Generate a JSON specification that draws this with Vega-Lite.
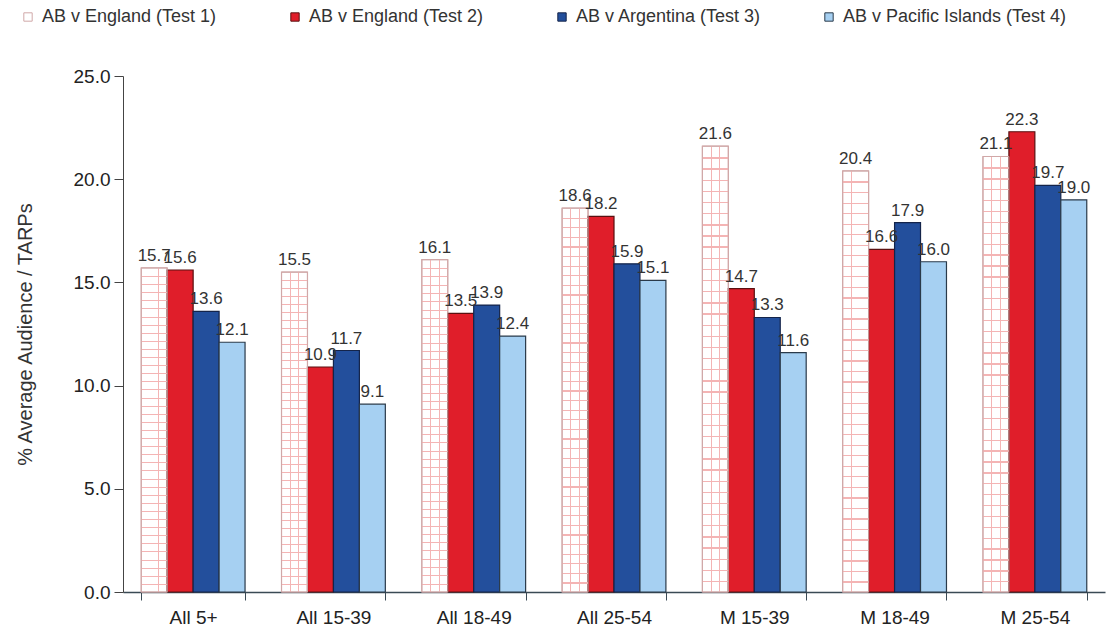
{
  "$schema": "https://vega.github.io/schema/vega-lite/v6.json",
  "width": 982,
  "height": 516,
  "padding": {"left": 123, "top": 76, "right": 4, "bottom": 49},
  "autosize": {"type": "none"},
  "background": "#ffffff",
  "config": {
    "view": {"stroke": null},
    "font": "Liberation Sans"
  },
  "data": {
    "values": [
      {"group": "All 5+", "series": "AB v England (Test 1)", "value": 15.7},
      {"group": "All 5+", "series": "AB v England (Test 2)", "value": 15.6},
      {"group": "All 5+", "series": "AB v Argentina (Test 3)", "value": 13.6},
      {"group": "All 5+", "series": "AB v Pacific Islands (Test 4)", "value": 12.1},
      {"group": "All 15-39", "series": "AB v England (Test 1)", "value": 15.5},
      {"group": "All 15-39", "series": "AB v England (Test 2)", "value": 10.9},
      {"group": "All 15-39", "series": "AB v Argentina (Test 3)", "value": 11.7},
      {"group": "All 15-39", "series": "AB v Pacific Islands (Test 4)", "value": 9.1},
      {"group": "All 18-49", "series": "AB v England (Test 1)", "value": 16.1},
      {"group": "All 18-49", "series": "AB v England (Test 2)", "value": 13.5},
      {"group": "All 18-49", "series": "AB v Argentina (Test 3)", "value": 13.9},
      {"group": "All 18-49", "series": "AB v Pacific Islands (Test 4)", "value": 12.4},
      {"group": "All 25-54", "series": "AB v England (Test 1)", "value": 18.6},
      {"group": "All 25-54", "series": "AB v England (Test 2)", "value": 18.2},
      {"group": "All 25-54", "series": "AB v Argentina (Test 3)", "value": 15.9},
      {"group": "All 25-54", "series": "AB v Pacific Islands (Test 4)", "value": 15.1},
      {"group": "M 15-39", "series": "AB v England (Test 1)", "value": 21.6},
      {"group": "M 15-39", "series": "AB v England (Test 2)", "value": 14.7},
      {"group": "M 15-39", "series": "AB v Argentina (Test 3)", "value": 13.3},
      {"group": "M 15-39", "series": "AB v Pacific Islands (Test 4)", "value": 11.6},
      {"group": "M 18-49", "series": "AB v England (Test 1)", "value": 20.4},
      {"group": "M 18-49", "series": "AB v England (Test 2)", "value": 16.6},
      {"group": "M 18-49", "series": "AB v Argentina (Test 3)", "value": 17.9},
      {"group": "M 18-49", "series": "AB v Pacific Islands (Test 4)", "value": 16.0},
      {"group": "M 25-54", "series": "AB v England (Test 1)", "value": 21.1},
      {"group": "M 25-54", "series": "AB v England (Test 2)", "value": 22.3},
      {"group": "M 25-54", "series": "AB v Argentina (Test 3)", "value": 19.7},
      {"group": "M 25-54", "series": "AB v Pacific Islands (Test 4)", "value": 19.0}
    ]
  },
  "encoding": {
    "x": {
      "field": "group",
      "type": "nominal",
      "sort": null,
      "scale": {"paddingInner": 0.26, "paddingOuter": 0.13},
      "axis": {
        "title": null,
        "labelAngle": 0,
        "labelFontSize": 19,
        "labelColor": "#222222",
        "labelPadding": 8,
        "tickBand": "extent",
        "tickSize": 8,
        "tickColor": "#3a4a55",
        "domainColor": "#3a4a55",
        "domainWidth": 1.5
      }
    },
    "xOffset": {
      "field": "series",
      "type": "nominal",
      "sort": null,
      "scale": {"paddingInner": 0, "paddingOuter": 0}
    },
    "y": {
      "field": "value",
      "type": "quantitative",
      "scale": {"domain": [0, 25], "nice": false},
      "axis": {
        "title": "% Average Audience / TARPs",
        "titleFontSize": 20,
        "titleFontWeight": "normal",
        "titleColor": "#333333",
        "titlePadding": 38,
        "values": [0, 5, 10, 15, 20, 25],
        "format": ".1f",
        "labelFontSize": 19,
        "labelColor": "#222222",
        "labelPadding": 4,
        "tickSize": 9,
        "tickColor": "#444444",
        "domainColor": "#444444",
        "grid": false
      }
    }
  },
  "layer": [
    {
      "mark": {"type": "bar", "strokeWidth": 1.2},
      "encoding": {
        "color": {
          "field": "series",
          "type": "nominal",
          "sort": null,
          "scale": {
            "domain": ["AB v England (Test 1)", "AB v England (Test 2)", "AB v Argentina (Test 3)", "AB v Pacific Islands (Test 4)"],
            "range": ["#ffffff", "#e01e2a", "#234f9c", "#a6d0f2"]
          },
          "legend": {
            "title": null,
            "orient": "none",
            "legendX": -104,
            "legendY": -68,
            "direction": "horizontal",
            "columns": 4,
            "gridAlign": "all",
            "columnPadding": 20,
            "symbolType": "square",
            "symbolSize": 70,
            "symbolStrokeWidth": 1,
            "labelFontSize": 18,
            "labelColor": "#333333",
            "labelOffset": 5,
            "labelLimit": 300
          }
        },
        "stroke": {
          "field": "series",
          "type": "nominal",
          "sort": null,
          "scale": {
            "domain": ["AB v England (Test 1)", "AB v England (Test 2)", "AB v Argentina (Test 3)", "AB v Pacific Islands (Test 4)"],
            "range": ["#d0a8a8", "#5a1010", "#14244a", "#2a3a4a"]
          },
          "legend": null
        }
      }
    },
    {
      "transform": [{"filter": "datum.series === 'AB v England (Test 1)'"}],
      "mark": {
        "type": "bar",
        "fill": {
          "gradient": "linear", "x1": 0, "y1": 0, "x2": 1, "y2": 0,
          "stops": [
            {"offset": 0, "color": "rgba(255,255,255,0)"},
            {"offset": 0.32, "color": "rgba(255,255,255,0)"},
            {"offset": 0.32, "color": "#f4b4b4"},
            {"offset": 0.355, "color": "#f4b4b4"},
            {"offset": 0.355, "color": "rgba(255,255,255,0)"},
            {"offset": 0.65, "color": "rgba(255,255,255,0)"},
            {"offset": 0.65, "color": "#f4b4b4"},
            {"offset": 0.685, "color": "#f4b4b4"},
            {"offset": 0.685, "color": "rgba(255,255,255,0)"},
            {"offset": 1, "color": "rgba(255,255,255,0)"}
          ]
        },
        "stroke": null
      }
    },
    {
      "transform": [{"filter": "datum.series === 'AB v England (Test 1)'"}],
      "mark": {
        "type": "bar",
        "fill": {
          "gradient": "linear", "x1": 0, "y1": 0, "x2": 0, "y2": 1,
          "stops": [
            {"offset": 0, "color": "rgba(255,255,255,0)"},
            {"offset": 0.025, "color": "rgba(255,255,255,0)"}, {"offset": 0.025, "color": "#f4b4b4"}, {"offset": 0.028, "color": "#f4b4b4"}, {"offset": 0.028, "color": "rgba(255,255,255,0)"},
            {"offset": 0.05, "color": "rgba(255,255,255,0)"}, {"offset": 0.05, "color": "#f4b4b4"}, {"offset": 0.053, "color": "#f4b4b4"}, {"offset": 0.053, "color": "rgba(255,255,255,0)"},
            {"offset": 0.075, "color": "rgba(255,255,255,0)"}, {"offset": 0.075, "color": "#f4b4b4"}, {"offset": 0.078, "color": "#f4b4b4"}, {"offset": 0.078, "color": "rgba(255,255,255,0)"},
            {"offset": 0.1, "color": "rgba(255,255,255,0)"}, {"offset": 0.1, "color": "#f4b4b4"}, {"offset": 0.103, "color": "#f4b4b4"}, {"offset": 0.103, "color": "rgba(255,255,255,0)"},
            {"offset": 0.125, "color": "rgba(255,255,255,0)"}, {"offset": 0.125, "color": "#f4b4b4"}, {"offset": 0.128, "color": "#f4b4b4"}, {"offset": 0.128, "color": "rgba(255,255,255,0)"},
            {"offset": 0.15, "color": "rgba(255,255,255,0)"}, {"offset": 0.15, "color": "#f4b4b4"}, {"offset": 0.153, "color": "#f4b4b4"}, {"offset": 0.153, "color": "rgba(255,255,255,0)"},
            {"offset": 0.175, "color": "rgba(255,255,255,0)"}, {"offset": 0.175, "color": "#f4b4b4"}, {"offset": 0.178, "color": "#f4b4b4"}, {"offset": 0.178, "color": "rgba(255,255,255,0)"},
            {"offset": 0.2, "color": "rgba(255,255,255,0)"}, {"offset": 0.2, "color": "#f4b4b4"}, {"offset": 0.203, "color": "#f4b4b4"}, {"offset": 0.203, "color": "rgba(255,255,255,0)"},
            {"offset": 0.225, "color": "rgba(255,255,255,0)"}, {"offset": 0.225, "color": "#f4b4b4"}, {"offset": 0.228, "color": "#f4b4b4"}, {"offset": 0.228, "color": "rgba(255,255,255,0)"},
            {"offset": 0.25, "color": "rgba(255,255,255,0)"}, {"offset": 0.25, "color": "#f4b4b4"}, {"offset": 0.253, "color": "#f4b4b4"}, {"offset": 0.253, "color": "rgba(255,255,255,0)"},
            {"offset": 0.275, "color": "rgba(255,255,255,0)"}, {"offset": 0.275, "color": "#f4b4b4"}, {"offset": 0.278, "color": "#f4b4b4"}, {"offset": 0.278, "color": "rgba(255,255,255,0)"},
            {"offset": 0.3, "color": "rgba(255,255,255,0)"}, {"offset": 0.3, "color": "#f4b4b4"}, {"offset": 0.303, "color": "#f4b4b4"}, {"offset": 0.303, "color": "rgba(255,255,255,0)"},
            {"offset": 0.325, "color": "rgba(255,255,255,0)"}, {"offset": 0.325, "color": "#f4b4b4"}, {"offset": 0.328, "color": "#f4b4b4"}, {"offset": 0.328, "color": "rgba(255,255,255,0)"},
            {"offset": 0.35, "color": "rgba(255,255,255,0)"}, {"offset": 0.35, "color": "#f4b4b4"}, {"offset": 0.353, "color": "#f4b4b4"}, {"offset": 0.353, "color": "rgba(255,255,255,0)"},
            {"offset": 0.375, "color": "rgba(255,255,255,0)"}, {"offset": 0.375, "color": "#f4b4b4"}, {"offset": 0.378, "color": "#f4b4b4"}, {"offset": 0.378, "color": "rgba(255,255,255,0)"},
            {"offset": 0.4, "color": "rgba(255,255,255,0)"}, {"offset": 0.4, "color": "#f4b4b4"}, {"offset": 0.403, "color": "#f4b4b4"}, {"offset": 0.403, "color": "rgba(255,255,255,0)"},
            {"offset": 0.425, "color": "rgba(255,255,255,0)"}, {"offset": 0.425, "color": "#f4b4b4"}, {"offset": 0.428, "color": "#f4b4b4"}, {"offset": 0.428, "color": "rgba(255,255,255,0)"},
            {"offset": 0.45, "color": "rgba(255,255,255,0)"}, {"offset": 0.45, "color": "#f4b4b4"}, {"offset": 0.453, "color": "#f4b4b4"}, {"offset": 0.453, "color": "rgba(255,255,255,0)"},
            {"offset": 0.475, "color": "rgba(255,255,255,0)"}, {"offset": 0.475, "color": "#f4b4b4"}, {"offset": 0.478, "color": "#f4b4b4"}, {"offset": 0.478, "color": "rgba(255,255,255,0)"},
            {"offset": 0.5, "color": "rgba(255,255,255,0)"}, {"offset": 0.5, "color": "#f4b4b4"}, {"offset": 0.503, "color": "#f4b4b4"}, {"offset": 0.503, "color": "rgba(255,255,255,0)"},
            {"offset": 0.525, "color": "rgba(255,255,255,0)"}, {"offset": 0.525, "color": "#f4b4b4"}, {"offset": 0.528, "color": "#f4b4b4"}, {"offset": 0.528, "color": "rgba(255,255,255,0)"},
            {"offset": 0.55, "color": "rgba(255,255,255,0)"}, {"offset": 0.55, "color": "#f4b4b4"}, {"offset": 0.553, "color": "#f4b4b4"}, {"offset": 0.553, "color": "rgba(255,255,255,0)"},
            {"offset": 0.575, "color": "rgba(255,255,255,0)"}, {"offset": 0.575, "color": "#f4b4b4"}, {"offset": 0.578, "color": "#f4b4b4"}, {"offset": 0.578, "color": "rgba(255,255,255,0)"},
            {"offset": 0.6, "color": "rgba(255,255,255,0)"}, {"offset": 0.6, "color": "#f4b4b4"}, {"offset": 0.603, "color": "#f4b4b4"}, {"offset": 0.603, "color": "rgba(255,255,255,0)"},
            {"offset": 0.625, "color": "rgba(255,255,255,0)"}, {"offset": 0.625, "color": "#f4b4b4"}, {"offset": 0.628, "color": "#f4b4b4"}, {"offset": 0.628, "color": "rgba(255,255,255,0)"},
            {"offset": 0.65, "color": "rgba(255,255,255,0)"}, {"offset": 0.65, "color": "#f4b4b4"}, {"offset": 0.653, "color": "#f4b4b4"}, {"offset": 0.653, "color": "rgba(255,255,255,0)"},
            {"offset": 0.675, "color": "rgba(255,255,255,0)"}, {"offset": 0.675, "color": "#f4b4b4"}, {"offset": 0.678, "color": "#f4b4b4"}, {"offset": 0.678, "color": "rgba(255,255,255,0)"},
            {"offset": 0.7, "color": "rgba(255,255,255,0)"}, {"offset": 0.7, "color": "#f4b4b4"}, {"offset": 0.703, "color": "#f4b4b4"}, {"offset": 0.703, "color": "rgba(255,255,255,0)"},
            {"offset": 0.725, "color": "rgba(255,255,255,0)"}, {"offset": 0.725, "color": "#f4b4b4"}, {"offset": 0.728, "color": "#f4b4b4"}, {"offset": 0.728, "color": "rgba(255,255,255,0)"},
            {"offset": 0.75, "color": "rgba(255,255,255,0)"}, {"offset": 0.75, "color": "#f4b4b4"}, {"offset": 0.753, "color": "#f4b4b4"}, {"offset": 0.753, "color": "rgba(255,255,255,0)"},
            {"offset": 0.775, "color": "rgba(255,255,255,0)"}, {"offset": 0.775, "color": "#f4b4b4"}, {"offset": 0.778, "color": "#f4b4b4"}, {"offset": 0.778, "color": "rgba(255,255,255,0)"},
            {"offset": 0.8, "color": "rgba(255,255,255,0)"}, {"offset": 0.8, "color": "#f4b4b4"}, {"offset": 0.803, "color": "#f4b4b4"}, {"offset": 0.803, "color": "rgba(255,255,255,0)"},
            {"offset": 0.825, "color": "rgba(255,255,255,0)"}, {"offset": 0.825, "color": "#f4b4b4"}, {"offset": 0.828, "color": "#f4b4b4"}, {"offset": 0.828, "color": "rgba(255,255,255,0)"},
            {"offset": 0.85, "color": "rgba(255,255,255,0)"}, {"offset": 0.85, "color": "#f4b4b4"}, {"offset": 0.853, "color": "#f4b4b4"}, {"offset": 0.853, "color": "rgba(255,255,255,0)"},
            {"offset": 0.875, "color": "rgba(255,255,255,0)"}, {"offset": 0.875, "color": "#f4b4b4"}, {"offset": 0.878, "color": "#f4b4b4"}, {"offset": 0.878, "color": "rgba(255,255,255,0)"},
            {"offset": 0.9, "color": "rgba(255,255,255,0)"}, {"offset": 0.9, "color": "#f4b4b4"}, {"offset": 0.903, "color": "#f4b4b4"}, {"offset": 0.903, "color": "rgba(255,255,255,0)"},
            {"offset": 0.925, "color": "rgba(255,255,255,0)"}, {"offset": 0.925, "color": "#f4b4b4"}, {"offset": 0.928, "color": "#f4b4b4"}, {"offset": 0.928, "color": "rgba(255,255,255,0)"},
            {"offset": 0.95, "color": "rgba(255,255,255,0)"}, {"offset": 0.95, "color": "#f4b4b4"}, {"offset": 0.953, "color": "#f4b4b4"}, {"offset": 0.953, "color": "rgba(255,255,255,0)"},
            {"offset": 0.975, "color": "rgba(255,255,255,0)"}, {"offset": 0.975, "color": "#f4b4b4"}, {"offset": 0.978, "color": "#f4b4b4"}, {"offset": 0.978, "color": "rgba(255,255,255,0)"},
            {"offset": 1, "color": "rgba(255,255,255,0)"}
          ]
        },
        "stroke": "#d0a8a8",
        "strokeWidth": 1
      }
    },
    {
      "mark": {
        "type": "text",
        "dy": -12,
        "fontSize": 17,
        "color": "#333333"
      },
      "encoding": {
        "text": {"field": "value", "type": "quantitative", "format": ".1f"}
      }
    }
  ]
}
